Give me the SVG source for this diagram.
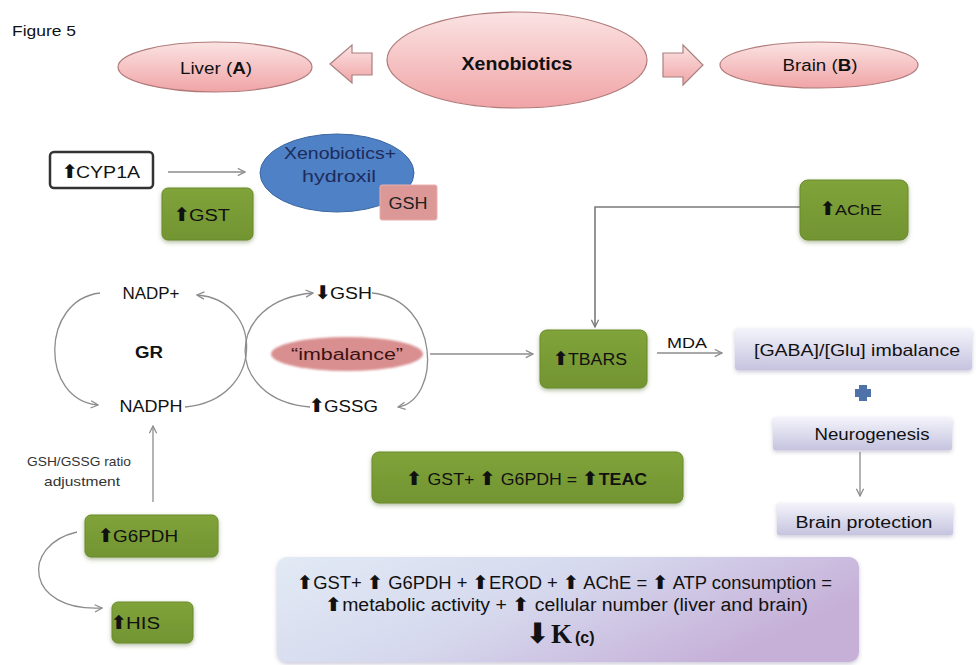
<svg xmlns="http://www.w3.org/2000/svg" width="978" height="665" viewBox="0 0 978 665">
<defs>
<style>
text{font-family:"Liberation Sans",Arial,sans-serif;fill:#111;}
.ar{font-family:"DejaVu Sans",sans-serif;font-weight:bold;font-size:19px;}
.c{text-anchor:middle;}
.b{font-weight:bold;}
.green{fill:url(#gGreen);stroke:#6a8a2a;stroke-width:1;filter:url(#sh);}
.lav{fill:url(#gLav);stroke:none;filter:url(#sh2);}
.pinkE{fill:url(#gPink);stroke:#b07a7a;stroke-width:1.2;}
.blockA{fill:url(#gPink);stroke:#a88080;stroke-width:1.2;}
.con{fill:none;stroke:#8c8c8c;stroke-width:1.3;}
.con2{fill:none;stroke:#7a7a7a;stroke-width:1.6;}
</style>
<linearGradient id="gPink" x1="0" y1="0" x2="0" y2="1">
<stop offset="0" stop-color="#fbe3e3"/><stop offset="1" stop-color="#f0a4a6"/>
</linearGradient>
<linearGradient id="gGreen" x1="0" y1="0" x2="0" y2="1">
<stop offset="0" stop-color="#80a33a"/><stop offset="1" stop-color="#729432"/>
</linearGradient>
<linearGradient id="gLav" x1="0" y1="0" x2="0" y2="1">
<stop offset="0" stop-color="#f4f4fb"/><stop offset="1" stop-color="#c6c3df"/>
</linearGradient>
<linearGradient id="gBig" x1="0" y1="0" x2="1" y2="0.4">
<stop offset="0" stop-color="#e2eaf5"/><stop offset="0.5" stop-color="#d6d9ee"/><stop offset="1" stop-color="#c6b0d8"/>
</linearGradient>
<filter id="sh" x="-20%" y="-20%" width="140%" height="150%">
<feDropShadow dx="0" dy="2" stdDeviation="2" flood-color="#556b2f" flood-opacity="0.45"/>
</filter>
<filter id="sh2" x="-10%" y="-20%" width="120%" height="150%">
<feDropShadow dx="0" dy="2" stdDeviation="2" flood-color="#8a88aa" flood-opacity="0.45"/>
</filter>
<filter id="soft" x="-10%" y="-30%" width="120%" height="160%">
<feGaussianBlur stdDeviation="1.2"/>
</filter>
<marker id="ah" viewBox="0 0 10 10" refX="9" refY="5" markerWidth="9" markerHeight="9" orient="auto" markerUnits="userSpaceOnUse">
<path d="M1,1 L9,5 L1,9" fill="none" stroke="#8c8c8c" stroke-width="1.4"/>
</marker>
<marker id="ah2" viewBox="0 0 10 10" refX="9" refY="5" markerWidth="9" markerHeight="9" orient="auto" markerUnits="userSpaceOnUse">
<path d="M1,1 L9,5 L1,9" fill="none" stroke="#7a7a7a" stroke-width="1.4"/>
</marker>
</defs>
<rect width="978" height="665" fill="#ffffff"/>

<text id="figure-label" x="12" y="36" font-size="14" textLength="64" lengthAdjust="spacingAndGlyphs" fill="#333">Figure 5</text>

<g id="connectors">
<path class="blockA" d="M330,64 L352,45 L352,53 L372,53 L372,75 L352,75 L352,83 Z"/>
<path class="blockA" d="M663,53 L683,53 L683,45 L703,65 L683,85 L683,77 L663,77 Z"/>
<line class="con" x1="168" y1="172" x2="245" y2="172" marker-end="url(#ah)"/>
<polyline class="con2" points="800,207 595,207 595,327" marker-end="url(#ah2)"/>
<path class="con" d="M100,293 C40,300 40,400 98,405" marker-end="url(#ah)"/>
<path class="con" d="M185,407 C265,400 265,300 197,295" marker-end="url(#ah)"/>
<path class="con" d="M310,407 C223,400 223,300 313,293" marker-end="url(#ah)"/>
<path class="con" d="M372,293 C441,300 441,400 398,407" marker-end="url(#ah)"/>
<line class="con" x1="430" y1="354" x2="533" y2="354" marker-end="url(#ah)"/>
<line class="con" x1="657" y1="353" x2="722" y2="353" marker-end="url(#ah)"/>
<line class="con" x1="860" y1="452" x2="860" y2="496" marker-end="url(#ah)"/>
<line class="con" x1="153" y1="502" x2="153" y2="426" marker-end="url(#ah)"/>
<path class="con" d="M77,532 C20,545 25,612 102,608" marker-end="url(#ah)"/>
</g>

<g id="liver">
<ellipse class="pinkE" cx="215" cy="67" rx="97" ry="25"/>
<text class="c" x="216" y="74" font-size="16" textLength="72" lengthAdjust="spacingAndGlyphs">Liver (<tspan class="b">A</tspan>)</text>
</g>
<g id="xenobiotics">
<ellipse class="pinkE" cx="517" cy="60" rx="130" ry="48"/>
<text class="c b" x="517" y="70" font-size="19" textLength="111" lengthAdjust="spacingAndGlyphs">Xenobiotics</text>
</g>
<g id="brain">
<ellipse class="pinkE" cx="819" cy="65" rx="99" ry="23"/>
<text class="c" x="820" y="71" font-size="16" textLength="75" lengthAdjust="spacingAndGlyphs">Brain (<tspan class="b">B</tspan>)</text>
</g>

<g id="cyp1a">
<rect x="50" y="152" width="103" height="36" rx="4" fill="#fff" stroke="#333" stroke-width="2.5"/>
<text y="178" font-size="17"><tspan class="ar" x="62">⬆</tspan><tspan x="76" textLength="64" lengthAdjust="spacingAndGlyphs">CYP1A</tspan></text>
</g>
<g id="gst">
<rect class="green" x="162" y="188" width="91" height="52" rx="6"/>
<text y="221" font-size="16"><tspan class="ar" x="174">⬆</tspan><tspan x="189" textLength="41" lengthAdjust="spacingAndGlyphs">GST</tspan></text>
</g>
<g id="xeno-hydroxil">
<ellipse cx="337" cy="173" rx="77" ry="39" fill="#4f81c7" stroke="#3c679f" stroke-width="1"/>
<text class="c" x="340" y="159" font-size="16" style="fill:#1d2c5a" textLength="112" lengthAdjust="spacingAndGlyphs">Xenobiotics+</text>
<text class="c" x="339" y="182" font-size="16" style="fill:#1d2c5a" textLength="74" lengthAdjust="spacingAndGlyphs">hydroxil</text>
</g>
<g id="gsh-conj">
<rect x="380" y="185" width="57" height="35" rx="2" fill="#dc9896" stroke="#e6b0ae" stroke-width="1"/>
<text class="c" x="408" y="209" font-size="16" style="fill:#222" textLength="39" lengthAdjust="spacingAndGlyphs">GSH</text>
</g>
<g id="ache">
<rect class="green" x="800" y="180" width="108" height="60" rx="8"/>
<text y="215" font-size="15"><tspan class="ar" x="820">⬆</tspan><tspan x="835" textLength="47" lengthAdjust="spacingAndGlyphs">AChE</tspan></text>
</g>

<g id="nadp">
<text class="c" x="151" y="299" font-size="16" textLength="57" lengthAdjust="spacingAndGlyphs">NADP+</text>
</g>
<g id="gr">
<text class="c b" x="149" y="358" font-size="16" textLength="28" lengthAdjust="spacingAndGlyphs">GR</text>
</g>
<g id="nadph">
<text class="c" x="151" y="412" font-size="16" textLength="63" lengthAdjust="spacingAndGlyphs">NADPH</text>
</g>
<g id="gsh-down">
<text y="299" font-size="16"><tspan class="ar" x="315">⬇</tspan><tspan x="330" textLength="42" lengthAdjust="spacingAndGlyphs">GSH</tspan></text>
</g>
<g id="gssg-up">
<text y="412" font-size="16"><tspan class="ar" x="309">⬆</tspan><tspan x="324" textLength="54" lengthAdjust="spacingAndGlyphs">GSSG</tspan></text>
</g>
<g id="imbalance">
<ellipse cx="347" cy="354" rx="76" ry="17" fill="#d98f8f" filter="url(#soft)"/>
<text class="c" x="347" y="360" font-size="16" style="fill:#3a1212" textLength="112" lengthAdjust="spacingAndGlyphs">“imbalance”</text>
</g>

<g id="tbars">
<rect class="green" x="540" y="330" width="107" height="58" rx="7"/>
<text y="365" font-size="16"><tspan class="ar" x="553">⬆</tspan><tspan x="568" textLength="59" lengthAdjust="spacingAndGlyphs">TBARS</tspan></text>
</g>
<g id="mda">
<text class="c" x="687" y="348" font-size="15" textLength="40" lengthAdjust="spacingAndGlyphs">MDA</text>
</g>
<g id="gaba">
<rect class="lav" x="735" y="328" width="237" height="42" rx="3"/>
<text class="c" x="857" y="356" font-size="17" textLength="206" lengthAdjust="spacingAndGlyphs">[GABA]/[Glu] imbalance</text>
</g>
<g id="plus">
<path d="M859,385 H867 V389 H871 V397 H867 V401 H859 V397 H855 V389 H859 Z" fill="#4f72aa"/>
</g>
<g id="neurogenesis">
<rect class="lav" x="773" y="417" width="179" height="33" rx="2"/>
<text class="c" x="872" y="440" font-size="16" textLength="115" lengthAdjust="spacingAndGlyphs">Neurogenesis</text>
</g>
<g id="brain-protection">
<rect class="lav" x="777" y="503" width="176" height="32" rx="2"/>
<text class="c" x="864" y="528" font-size="16" textLength="137" lengthAdjust="spacingAndGlyphs">Brain protection</text>
</g>

<g id="ratio-label">
<text class="c" x="79" y="466" font-size="13" textLength="104" lengthAdjust="spacingAndGlyphs" style="fill:#333">GSH/GSSG ratio</text>
<text class="c" x="82" y="486" font-size="13" textLength="76" lengthAdjust="spacingAndGlyphs" style="fill:#333">adjustment</text>
</g>
<g id="g6pdh">
<rect class="green" x="85" y="515" width="133" height="42" rx="6"/>
<text y="542" font-size="16"><tspan class="ar" x="98">⬆</tspan><tspan x="113" textLength="65" lengthAdjust="spacingAndGlyphs">G6PDH</tspan></text>
</g>
<g id="his">
<rect class="green" x="112" y="602" width="81" height="41" rx="6"/>
<text y="629" font-size="16"><tspan class="ar" x="111">⬆</tspan><tspan x="126" textLength="34" lengthAdjust="spacingAndGlyphs">HIS</tspan></text>
</g>
<g id="teac">
<rect class="green" x="372" y="452" width="311" height="51" rx="7"/>
<text x="406" y="485" font-size="17" textLength="241" lengthAdjust="spacingAndGlyphs"><tspan class="ar">⬆</tspan> GST+ <tspan class="ar">⬆</tspan> G6PDH = <tspan class="ar">⬆</tspan><tspan class="b">TEAC</tspan></text>
</g>
<g id="summary">
<rect x="277" y="557" width="582" height="105" rx="10" fill="url(#gBig)" filter="url(#sh2)"/>
<text x="297" y="589" font-size="18" textLength="535" lengthAdjust="spacingAndGlyphs"><tspan class="ar">⬆</tspan>GST+ <tspan class="ar">⬆</tspan> G6PDH + <tspan class="ar">⬆</tspan>EROD + <tspan class="ar">⬆</tspan> AChE = <tspan class="ar">⬆</tspan> ATP consumption =</text>
<text x="325" y="611" font-size="18" textLength="483" lengthAdjust="spacingAndGlyphs"><tspan class="ar">⬆</tspan>metabolic activity + <tspan class="ar">⬆</tspan> cellular number (liver and brain)</text>
<text y="643"><tspan class="ar" x="526" style="font-size:28px">⬇</tspan><tspan class="b" x="551" font-size="27" style="font-family:'Liberation Serif',serif">K</tspan><tspan x="575" font-size="16" class="b">(c)</tspan></text>
</g>
</svg>
